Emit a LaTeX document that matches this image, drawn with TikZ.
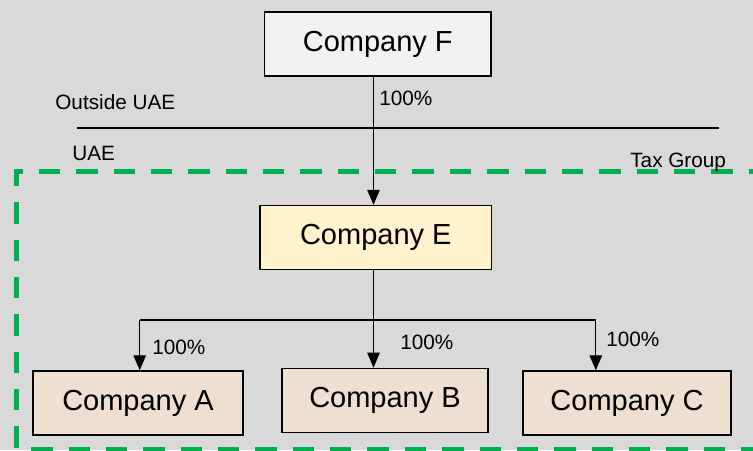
\documentclass[tikz,border=0pt]{standalone}
\usepackage{fontspec}
\setmainfont{Liberation Sans}
\usetikzlibrary{arrows.meta}
\definecolor{bgGray}{HTML}{D9D9D9}
\definecolor{boxF}{HTML}{F2F2F2}
\definecolor{boxE}{HTML}{FFF2CC}
\definecolor{boxSub}{HTML}{EEDFD1}
\definecolor{taxGreen}{HTML}{00B050}
\tikzset{
  company/.style={draw, line width=0.8pt, minimum height=1.28cm, font=\fontsize{16.5}{18}\selectfont},
  share/.style={anchor=west, inner sep=0pt, font=\fontsize{11.8}{13}\selectfont},
  plain/.style={anchor=west, inner sep=0pt, font=\fontsize{11.8}{13}\selectfont},
  own/.style={line width=0.6pt, -{Triangle[width=0.25cm,length=0.3cm]}},
}

\begin{document}
\begin{tikzpicture}
        \fill[bgGray] (0,0) rectangle (15.06,9);
        \useasboundingbox (0,0) rectangle (15.06,9);
        \coordinate (trunk) at (7.47,0);
        \coordinate (barA) at (2.794,2.6);
        \coordinate (barC) at (11.916,2.6);
        \coordinate (lineL) at (1.54,6.44);
        \coordinate (lineR) at (14.37,6.44);
        % tax group border
        \draw[taxGreen, line width=0.1cm, dash pattern=on 0.427cm off 0.32cm]
          (15.4,5.57) -- (0.33,5.57) -- (0.33,0.02) -- (15.4,0.02);
        \node[company, fill=boxF, minimum width=4.53cm] (F) at (7.555,8.12) {Company F};
        \node[company, fill=boxE, minimum width=4.63cm] (E) at (7.516,4.25) {Company E};
        \node[company, fill=boxSub, minimum width=4.2cm] (A) at (2.76,0.94) {Company A};
        \node[company, fill=boxSub, minimum width=4.12cm] (B) at (7.7,0.993) {Company B};
        \node[company, fill=boxSub, minimum width=4.16cm] (C) at (12.54,0.94) {Company C};
        \node[plain] (outside) at (1.1,6.96) {Outside UAE};
        \node[plain] (uae) at (1.44,5.94) {UAE};
        \node[plain] (tax) at (12.6,5.76) {Tax Group};
        \draw[line width=1.2pt] (lineL) -- (lineR);
        \draw[own] (F.south -| trunk) -- (E.north -| trunk);
        \draw[line width=0.6pt] (barA) -- (barC);
        \draw[own] (E.south -| trunk) -- (B.north -| trunk);
        \draw[own] (barA) -- (barA |- A.north);
        \draw[own] (barC) -- (barC |- C.north);
        \node[share] (sF) at (7.58,7.03) {100\%};
        \node[share] (sA) at (3.04,2.05) {100\%};
        \node[share] (sB) at (8.0,2.16) {100\%};
        \node[share] (sC) at (12.12,2.22) {100\%};
\end{tikzpicture}
\end{document}
